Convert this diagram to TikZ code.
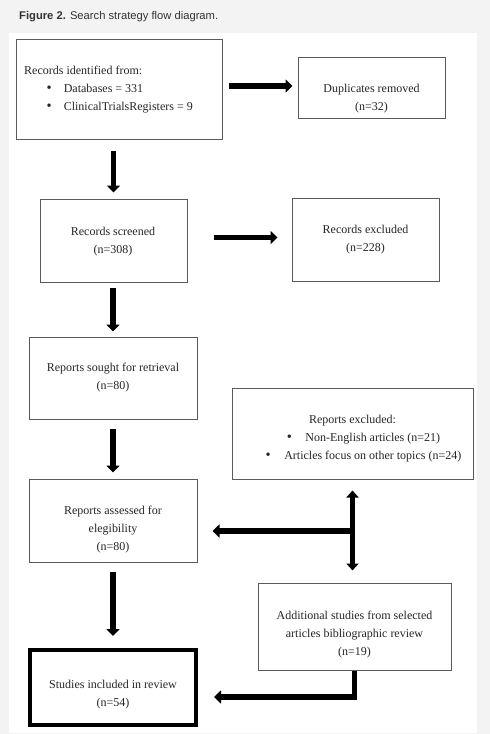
\documentclass[tikz,border=0pt]{standalone}
\usepackage{fontspec}
\setmainfont{Liberation Serif}
\newfontfamily\titlefont{Liberation Sans}
\usetikzlibrary{arrows.meta,calc}
\definecolor{bgout}{HTML}{F3F3F3}
\definecolor{boxline}{HTML}{5A5A5A}
\definecolor{txt}{HTML}{262626}
\definecolor{titletxt}{HTML}{333333}
\newcommand{\bul}{{\fontsize{14.5}{18}\selectfont\textbullet}}
\begin{document}
\begin{tikzpicture}[x=1pt,y=-1pt,
  box/.style={draw=boxline,line width=1pt,inner sep=0pt},
  finalbox/.style={draw=black,line width=4pt,inner sep=0pt},
  lbl/.style={font=\fontsize{12}{18}\selectfont,text=txt,align=center,inner sep=0pt},
  arr/.style={draw=black,line width=5.5pt,-{Triangle[length=7pt,width=13pt]}},
  darr/.style={draw=black,line width=5pt,{Triangle[length=7pt,width=12pt]}-{Triangle[length=7pt,width=12pt]}}]
\useasboundingbox (0,0) rectangle (490,734);
\fill[bgout] (0,0) rectangle (490,734);
\fill[white] (9,33) rectangle (477,733);
\node[anchor=west,inner sep=0pt,text=titletxt,font=\titlefont\fontsize{11.2}{13}\selectfont] (title) at (19,17) {\textbf{Figure 2.} Search strategy flow diagram.};
% boxes
\node[box,minimum width=206pt,minimum height=100pt] (box1) at (119,89) {};
\node[box,minimum width=147pt,minimum height=61pt] (dup) at (371.5,87.5) {};
\node[box,minimum width=147pt,minimum height=83pt] (screened) at (113.5,240.5) {};
\node[box,minimum width=147pt,minimum height=83pt] (rexclr) at (365.5,239.5) {};
\node[box,minimum width=168pt,minimum height=82pt] (sought) at (113,378) {};
\node[box,minimum width=168pt,minimum height=83pt] (assessed) at (113,520.5) {};
\node[box,minimum width=241pt,minimum height=91pt] (rexcl) at (352.5,433.5) {};
\node[box,minimum width=193pt,minimum height=87pt] (add) at (354.5,626.5) {};
\node[finalbox,minimum width=166pt,minimum height=75pt] (studies) at (113,687.5) {};
% texts
\node[lbl,align=left,anchor=west] (t1) at (24,89.5) {Records identified from:\\\hspace*{22.5pt}\bul\hspace{12pt}Databases = 331\\\hspace*{22.5pt}\bul\hspace{12pt}ClinicalTrialsRegisters = 9};
\node[lbl] (tdup) at (371.5,98.5) {Duplicates removed\\(n=32)};
\node[lbl] (tscr) at (113,241.5) {Records screened\\(n=308)};
\node[lbl] (trexclr) at (365.5,240) {Records excluded\\(n=228)};
\node[lbl] (tsought) at (113,378) {Reports sought for retrieval\\(n=80)};
\node[lbl] (tassess) at (113,530) {Reports assessed for\\elegibility\\(n=80)};
\node[lbl] (trexcl) at (352.5,439) {Reports excluded:\\\hspace*{22pt}\bul\hspace{13.5pt}Non-English articles (n=21)\\\hspace*{22pt}\bul\hspace{13.5pt}Articles focus on other topics (n=24)};
\node[lbl] (tadd) at (354.5,634.5) {Additional studies from selected\\articles bibliographic review\\(n=19)};
\node[lbl] (tstud) at (113,694.5) {Studies included in review\\(n=54)};
% connectors
\draw[arr,shorten <=6pt,shorten >=5pt] ($(box1.east |- dup.west)+(0,-1.5)$) -- ($(dup.west)+(0,-1.5)$);
\draw[arr,shorten <=11pt,shorten >=6pt] (screened.north |- box1.south) -- (screened.north);
\draw[arr,shorten <=26pt,shorten >=14pt] ($(screened.east)+(0,-3)$) -- ($(screened.east -| rexclr.west)+(0,-3)$);
\draw[arr,shorten <=5pt,shorten >=5pt] (screened.south -| sought.north) -- (sought.north);
\draw[arr,shorten <=9pt,shorten >=6pt] (sought.south) -- (assessed.north);
\draw[darr,shorten <=11pt,shorten >=12pt] (rexcl.south) -- (rexcl.south |- add.north);
\coordinate (j1) at ($(rexcl.south |- assessed.east)+(0,10.5)$);
\draw[arr,shorten >=15pt] (j1) -- (j1 -| assessed.east);
\draw[arr,shorten <=9pt,shorten >=12pt] (assessed.south) -- (studies.north);
\draw[arr,shorten >=16pt] (add.south) |- ($(studies.east)+(0,9.5)$);
\end{tikzpicture}
\end{document}
